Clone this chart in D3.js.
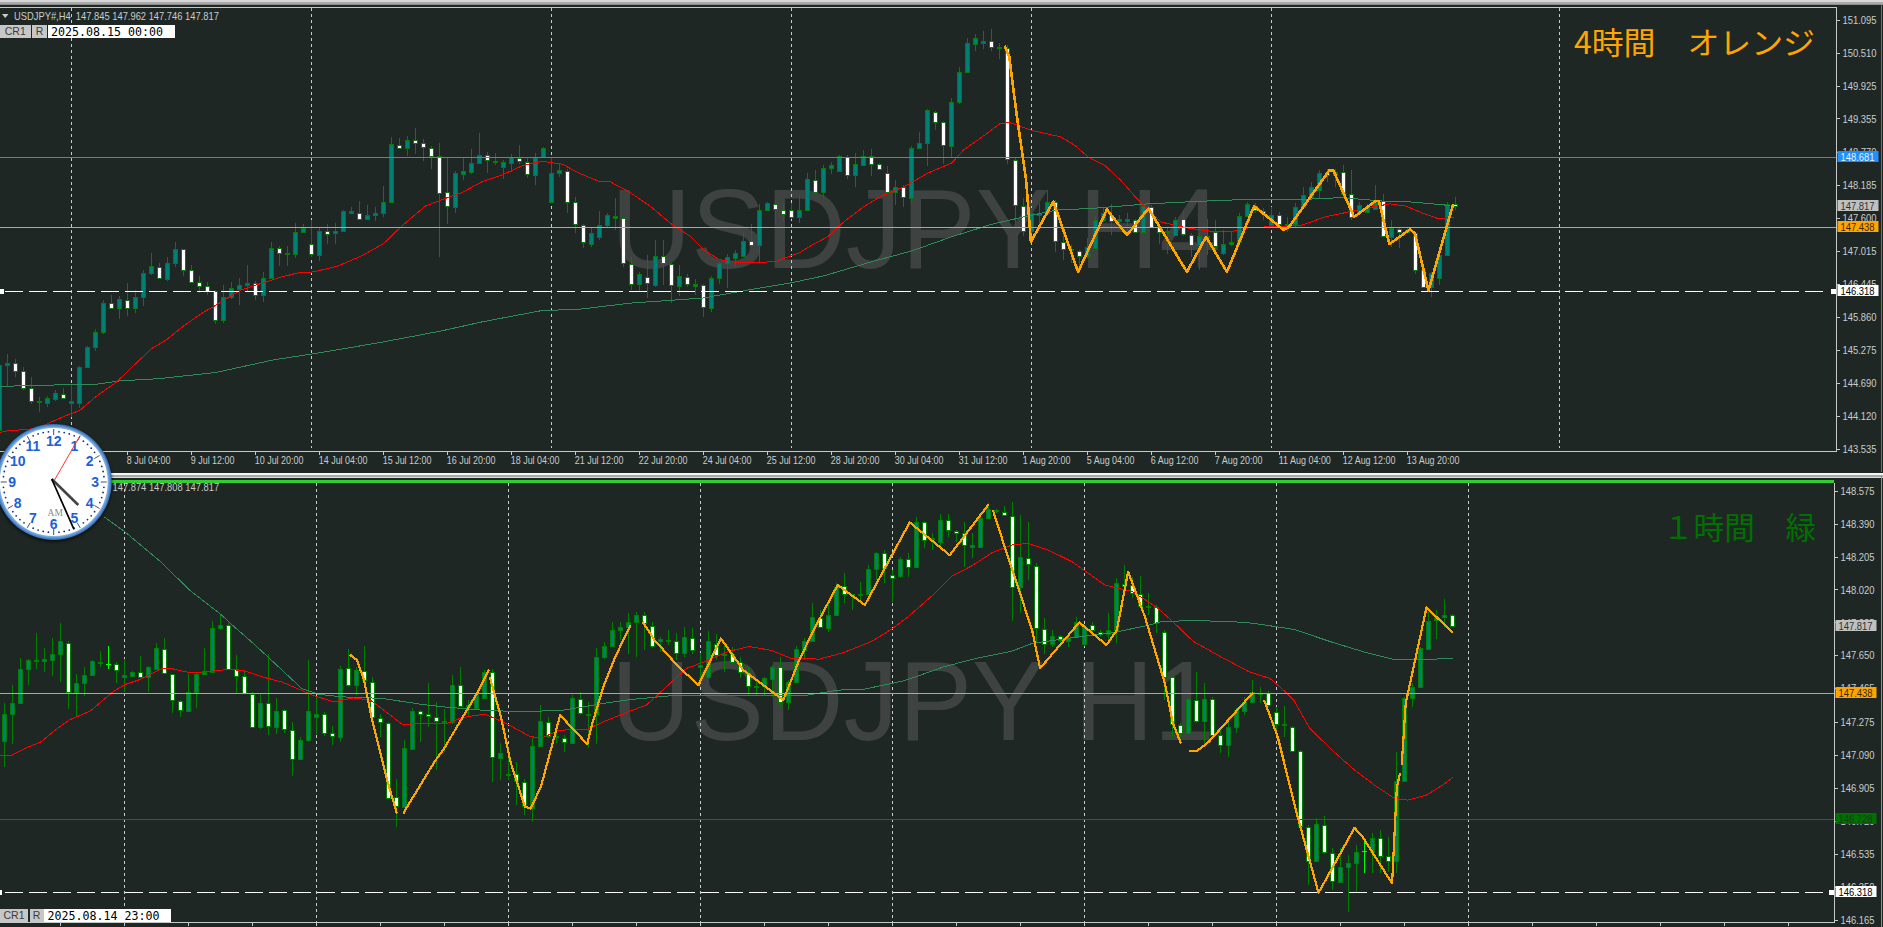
<!DOCTYPE html>
<html><head><meta charset="utf-8">
<script src="https://cdn.jsdelivr.net/npm/d3@7"></script>
<style>
html,body{margin:0;padding:0;background:#1f2724;overflow:hidden}
svg{display:block;font-family:"Liberation Sans",Arial,sans-serif}
</style></head><body>
<svg id="c" width="1883" height="927"></svg>
<script>
// ---- H4 panel: [open, high, low, close] per bar
const h4Bars=[
[143.86,145.07,143.80,145.01],[145.01,145.21,144.63,145.05],[145.05,145.12,144.80,144.91],[144.91,144.98,144.57,144.60],[144.60,144.79,144.32,144.38],[144.38,144.45,144.19,144.35],[144.34,144.46,144.27,144.42],[144.41,144.57,144.37,144.51],[144.50,144.60,144.41,144.42],[144.34,144.66,144.10,144.37],
[144.34,145.00,144.26,144.98],[144.98,145.34,144.95,145.33],[145.33,145.64,145.26,145.59],[145.60,146.15,145.55,146.11],[146.11,146.24,145.99,146.02],[146.02,146.22,145.82,146.17],[146.15,146.45,145.87,146.01],[146.01,146.33,145.92,146.20],[146.20,146.69,146.05,146.64],[146.63,146.98,146.59,146.75],
[146.74,146.80,146.52,146.54],[146.52,146.92,146.49,146.80],[146.80,147.18,146.74,147.05],[147.05,147.06,146.58,146.68],[146.68,146.77,146.45,146.48],[146.48,146.58,146.27,146.41],[146.41,146.48,146.24,146.31],[146.32,146.33,145.74,145.81],[145.80,146.42,145.75,146.21],[146.21,146.48,146.18,146.36],
[146.35,146.55,146.07,146.42],[146.42,146.78,146.30,146.46],[146.45,146.49,146.15,146.24],[146.24,146.65,146.12,146.55],[146.55,147.18,146.52,147.08],[147.08,147.10,146.75,146.99],[146.97,147.10,146.75,146.99],[146.97,147.52,146.89,147.36],[147.36,147.50,147.33,147.42],[147.15,147.57,146.91,146.96],
[146.95,147.45,146.84,147.37],[147.37,147.49,147.15,147.31],[147.33,147.52,147.14,147.37],[147.37,147.74,147.36,147.72],[147.69,147.80,147.68,147.72],[147.69,147.90,147.56,147.59],[147.59,147.83,147.56,147.66],[147.66,147.80,147.55,147.68],[147.68,148.16,147.61,147.89],[147.89,149.02,147.88,148.90],
[148.89,149.01,148.81,148.83],[148.83,149.04,148.69,148.98],[148.98,149.18,148.73,148.93],[148.93,149.00,148.61,148.85],[148.84,148.87,148.47,148.70],[148.69,148.93,146.91,148.04],[148.05,148.68,147.49,147.81],[147.80,148.43,147.68,148.39],[148.38,148.68,148.27,148.42],[148.41,148.81,148.37,148.57],
[148.57,149.09,148.55,148.71],[148.71,148.76,148.39,148.63],[148.59,148.74,148.54,148.61],[148.50,148.63,148.28,148.58],[148.57,148.73,148.41,148.67],[148.66,148.88,148.56,148.60],[148.59,148.68,148.31,148.37],[148.36,148.74,148.18,148.68],[148.68,148.86,148.65,148.83],[147.89,148.68,147.89,148.39],
[148.40,148.55,148.33,148.44],[148.43,148.46,147.69,147.89],[147.89,147.97,147.33,147.49],[147.48,147.49,147.08,147.18],[147.15,147.42,147.09,147.33],[147.27,147.72,147.21,147.48],[147.47,147.68,147.42,147.65],[147.60,147.95,147.39,147.63],[147.60,147.62,146.74,146.80],[146.79,146.92,146.33,146.44],
[146.44,146.65,146.30,146.62],[146.56,146.95,146.19,146.46],[146.42,147.21,146.38,146.93],[146.93,147.22,146.42,146.80],[146.79,146.80,146.11,146.42],[146.41,146.77,146.22,146.57],[146.56,146.62,146.38,146.43],[146.41,146.52,146.24,146.43],[146.42,146.44,145.85,146.03],[146.02,146.58,145.95,146.55],
[146.55,146.83,146.44,146.80],[146.80,146.96,146.36,146.91],[146.90,147.03,146.74,146.98],[146.93,147.36,146.92,147.20],[147.20,147.49,147.11,147.13],[147.13,147.85,146.83,147.75],[147.75,147.89,147.73,147.86],[147.85,147.92,147.52,147.76],[147.75,147.83,147.53,147.67],[147.75,147.86,147.59,147.61],
[147.61,148.00,147.52,147.75],[147.74,148.39,147.73,148.28],[148.27,148.44,148.03,148.05],[148.05,148.53,147.93,148.49],[148.49,148.59,148.37,148.53],[148.43,148.71,148.41,148.69],[148.68,148.71,148.29,148.35],[148.35,148.75,148.15,148.56],[148.54,148.80,148.51,148.70],[148.69,148.81,148.34,148.56],
[148.56,148.57,148.44,148.46],[148.40,148.52,148.04,148.05],[148.05,148.27,147.83,148.15],[148.15,148.18,147.80,147.97],[147.96,148.87,147.86,148.84],[148.84,149.12,148.81,148.93],[148.93,149.53,148.52,149.50],[149.47,149.48,149.16,149.30],[149.30,149.31,148.56,148.88],[148.87,149.72,148.68,149.64],
[149.64,150.27,149.61,150.18],[150.18,150.78,150.17,150.69],[150.67,150.84,150.55,150.77],[150.69,150.89,150.58,150.72],[150.72,150.93,150.55,150.61],[150.60,150.68,150.40,150.62],[150.60,150.65,148.56,148.64],[148.63,148.67,147.47,147.83],[147.81,147.95,147.28,147.37],[147.37,147.77,147.26,147.68],
[147.65,147.86,147.50,147.68],[147.68,148.09,147.68,147.89],[147.89,147.92,147.00,147.20],[147.17,147.36,146.86,147.06],[147.03,147.12,146.80,147.06],[147.02,147.03,146.64,146.93],[146.93,147.24,146.89,147.09],[147.08,147.62,147.06,147.57],[147.56,147.80,147.53,147.68],[147.65,147.85,147.30,147.55],
[147.54,147.65,147.39,147.58],[147.55,147.68,147.36,147.59],[147.56,147.59,147.33,147.36],[147.35,147.86,147.33,147.81],[147.79,147.83,147.42,147.45],[147.45,147.50,147.15,147.36],[147.35,147.45,146.96,147.37],[147.30,147.61,147.28,147.57],[147.58,147.73,147.29,147.32],[147.30,147.33,146.92,147.13],
[147.13,147.33,146.68,147.29],[147.28,147.59,146.95,147.29],[147.36,147.57,147.06,147.11],[146.99,147.39,146.95,147.15],[147.15,147.36,147.11,147.17],[147.17,147.69,147.15,147.64],[147.64,147.89,147.62,147.84],[147.82,147.86,147.68,147.74],[147.73,147.77,147.56,147.69],[147.47,147.80,147.45,147.66],
[147.66,147.71,147.47,147.49],[147.45,147.62,147.35,147.50],[147.50,147.86,147.45,147.80],[147.80,148.15,147.79,148.00],[147.97,148.24,147.95,148.14],[148.10,148.44,147.95,148.40],[148.40,148.47,148.24,148.35],[148.36,148.47,148.15,148.41],[148.41,148.53,147.97,148.02],[148.02,148.44,147.57,147.62],
[147.71,147.89,147.68,147.83],[147.71,147.85,147.69,147.77],[147.76,148.18,147.74,147.89],[147.90,148.03,147.26,147.28],[147.27,147.56,147.09,147.42],[147.41,147.42,147.08,147.35],[147.36,147.45,147.33,147.39],[147.34,147.36,146.61,146.69],[146.68,146.71,146.36,146.38],[146.38,146.65,146.21,146.63],
[146.55,146.98,146.42,146.95],[146.95,147.89,146.93,147.85],[147.845,147.962,147.746,147.817]];
// red moving average, H4: [bar, price]
const h4Fast=[[-1,143.79],[1,143.85],[3,143.87],[5,143.90],[6.5,144.01],[8.5,144.13],[10,144.21],[12,144.45],[14.6,144.71],[16.6,144.98],[19,145.30],[20.8,145.45],[23.1,145.71],[25.6,145.95],[27.1,146.07],[30.1,146.33],[32.1,146.42],[35.2,146.56],[37.2,146.63],[39.2,146.65],[42.2,146.75],[45.2,146.93],[48,147.15],[50.2,147.45],[53.2,147.81],[55.8,147.95],[57.8,148.05],[60.3,148.24],[62.8,148.36],[65.3,148.52],[67.8,148.60],[70.3,148.55],[72.3,148.40],[74.8,148.25],[76.3,148.24],[78.8,148.05],[81.4,147.80],[83.9,147.50],[86.4,147.27],[87.9,147.05],[89.9,146.87],[91.9,146.82],[94.9,146.82],[96.9,146.83],[100,146.99],[101.5,147.12],[103.5,147.27],[105.5,147.53],[108,147.80],[110,147.97],[113,148.15],[116,148.39],[119,148.57],[120.5,148.80],[123.1,149.06],[125.1,149.27],[126.3,149.28],[129.1,149.14],[132.6,149.03],[134.4,148.88],[136.1,148.67],[138.1,148.53],[140.1,148.27],[142.1,147.95],[143.4,147.77],[145.2,147.53],[148.2,147.43],[151.2,147.37],[154.2,147.37],[156.2,147.43],[161,147.46],[162.7,147.47],[165.7,147.62],[168.7,147.71],[171.8,147.80],[173.8,147.85],[175.8,147.81],[177.8,147.69],[179.8,147.59],[181.8,147.61]];
// green moving average, H4
const h4Slow=[[-1,144.63],[7.5,144.66],[12,144.67],[15,144.73],[20,144.77],[27.1,144.88],[34.2,145.10],[40.2,145.23],[47.7,145.41],[55.2,145.61],[60.3,145.77],[67.8,145.97],[72.3,145.99],[78.8,146.10],[87.9,146.19],[93.9,146.34],[99,146.46],[103,146.58],[109,146.83],[114,147.02],[119,147.27],[124,147.49],[128,147.62],[132.1,147.74],[136.6,147.77],[143.6,147.85],[149.2,147.89],[156.2,147.93],[163.2,147.93],[167.7,147.96],[172.8,147.90],[176.8,147.88],[181.3,147.82]];
// orange zigzag, H4
const h4Zig=[[125.6,150.64],[126.2,150.44],[127.1,149.44],[128.3,148.27],[128.9,147.18],[131.7,147.89],[134.8,146.65],[138.4,147.75],[140.9,147.30],[143.6,147.77],[148.4,146.65],[150.8,147.27],[153.4,146.65],[156.8,147.81],[160.5,147.39],[161.2,147.45],[166.2,148.44],[166.7,148.44],[169.3,147.62],[172,147.90],[172.4,147.90],[173.7,147.14],[176.3,147.40],[176.9,147.33],[178.6,146.32],[181.7,147.85]];

// ---- H1 panel
const h1Bars=[
[147.170,147.380,147.024,147.323],[147.323,147.486,147.151,147.385],[147.385,147.636,147.380,147.576],[147.574,147.632,147.483,147.623],[147.616,147.773,147.576,147.623],[147.616,147.694,147.557,147.629],[147.623,147.750,147.533,147.660],[147.660,147.829,147.501,147.728],[147.722,147.730,147.351,147.445],[147.445,147.548,147.305,147.492],
[147.492,147.586,147.421,147.542],[147.542,147.623,147.539,147.616],[147.614,147.675,147.586,147.606],[147.604,147.702,147.571,147.604],[147.602,147.614,147.496,147.565],[147.529,147.632,147.445,147.537],[147.535,147.563,147.529,147.557],[147.556,147.645,147.520,147.528],[147.529,147.589,147.445,147.582],[147.576,147.722,147.567,147.689],
[147.687,147.745,147.544,147.550],[147.546,147.548,147.327,147.398],[147.395,147.398,147.301,147.342],[147.338,147.548,147.331,147.445],[147.445,147.554,147.355,147.548],[147.548,147.694,147.542,147.559],[147.557,147.842,147.554,147.801],[147.805,147.876,147.795,147.818],[147.822,147.833,147.571,147.574],[147.573,147.651,147.436,147.533],
[147.533,147.567,147.432,147.436],[147.434,147.445,147.241,147.247],[147.245,147.436,147.239,147.385],[147.385,147.655,147.204,147.252],[147.249,147.408,147.211,147.340],[147.342,147.346,147.215,147.235],[147.232,147.273,146.973,147.067],[147.065,147.192,147.061,147.177],[147.177,147.623,147.164,147.340],[147.305,147.417,147.211,147.322],
[147.322,147.333,147.196,147.215],[147.213,147.252,147.145,147.196],[147.192,147.589,147.164,147.576],[147.578,147.683,147.473,147.486],[147.486,147.586,147.426,147.567],[147.563,147.704,147.492,147.509],[147.501,147.526,147.286,147.305],[147.297,147.323,147.192,147.275],[147.269,147.277,146.846,146.851],[146.853,146.958,146.687,146.803],
[146.799,147.177,146.793,147.127],[147.125,147.355,147.118,147.340],[147.337,147.342,147.164,147.323],[147.320,147.492,147.248,147.307],[147.305,147.389,147.005,147.284],[147.280,147.346,147.108,147.275],[147.277,147.539,147.267,147.486],[147.484,147.582,147.361,147.365],[147.361,147.398,147.305,147.370],[147.355,147.445,147.346,147.426],
[147.413,147.567,147.408,147.557],[147.557,147.571,146.936,147.080],[147.074,147.155,146.949,147.099],[146.977,147.080,146.949,146.984],[146.981,147.052,146.808,146.945],[146.939,146.958,146.752,146.803],[146.790,147.183,146.715,147.142],[147.142,147.370,147.136,147.282],[147.277,147.305,147.183,147.196],[147.198,147.230,147.155,147.189],
[147.187,147.202,147.108,147.162],[147.159,147.426,147.151,147.408],[147.406,147.445,147.314,147.325],[147.314,147.389,147.132,147.323],[147.318,147.694,147.151,147.642],[147.642,147.726,147.632,147.704],[147.704,147.835,147.698,147.795],[147.795,147.838,147.735,147.810],[147.810,147.889,147.660,147.838],[147.839,147.895,147.642,147.875],
[147.876,147.895,147.680,147.830],[147.815,147.839,147.689,147.702],[147.732,147.755,147.670,147.740],[147.732,147.792,147.708,147.738],[147.732,147.773,147.624,147.661],[147.661,147.807,147.642,147.751],[147.749,147.803,147.657,147.680],[147.586,147.661,147.521,147.595],[147.530,147.788,147.526,147.728],[147.713,147.770,147.624,147.652],
[147.650,147.717,147.558,147.657],[147.655,147.698,147.605,147.610],[147.610,147.642,147.521,147.556],[147.552,147.586,147.427,147.478],[147.479,147.511,147.427,147.474],[147.478,147.530,147.427,147.521],[147.515,147.595,147.418,147.586],[147.586,147.642,147.352,147.389],[147.386,147.511,147.343,147.502],[147.502,147.702,147.492,147.683],
[147.680,147.745,147.624,147.732],[147.732,147.942,147.727,147.863],[147.861,147.904,147.801,147.809],[147.801,147.951,147.783,147.878],[147.878,148.054,147.873,148.036],[148.039,148.110,147.942,147.994],[147.987,147.994,147.904,147.994],[147.987,148.064,147.951,147.994],[147.994,148.157,147.989,148.133],[148.133,148.232,148.073,148.223],
[148.223,148.242,148.054,148.139],[148.101,148.129,147.951,148.086],[148.097,148.204,148.082,148.189],[148.191,148.223,148.092,148.146],[148.148,148.429,148.144,148.401],[148.401,148.406,148.251,148.298],[148.301,148.335,148.242,148.311],[148.288,148.442,148.242,148.408],[148.410,148.444,148.316,148.352],[148.350,148.354,148.288,148.335],
[148.339,148.401,148.148,148.270],[148.260,148.335,148.195,148.268],[148.260,148.429,148.257,148.419],[148.419,148.504,148.414,148.470],[148.468,148.472,148.448,148.462],[148.457,148.489,148.434,148.438],[148.433,148.513,147.845,148.036],[148.032,148.438,147.886,148.200],[148.198,148.401,148.073,148.163],[148.154,148.170,147.717,147.805],
[147.800,147.858,147.657,147.713],[147.712,147.792,147.698,147.760],[147.758,147.764,147.698,147.736],[147.732,147.773,147.698,147.745],[147.755,147.867,147.745,147.839],[147.712,147.820,147.704,147.811],[147.820,147.839,147.773,147.792],[147.781,147.792,147.755,147.770],[147.770,147.889,147.717,147.792],[147.792,148.082,147.721,148.054],
[148.051,148.157,147.998,148.039],[148.045,148.092,147.970,148.002],[147.994,148.095,147.919,147.927],[147.921,147.998,147.876,147.927],[147.921,147.933,147.773,147.833],[147.783,147.792,147.399,147.530],[147.526,147.534,147.193,147.264],[147.260,147.268,147.193,147.212],[147.215,147.417,147.212,147.403],[147.401,147.558,147.268,147.281],
[147.283,147.492,147.146,147.403],[147.406,147.417,147.193,147.202],[147.202,147.240,147.099,147.146],[147.144,147.305,147.080,147.245],[147.245,147.352,147.212,147.343],[147.339,147.417,147.315,147.386],[147.386,147.511,147.380,147.446],[147.433,147.470,147.380,147.440],[147.438,147.451,147.361,147.369],[147.333,147.358,147.230,147.264],
[147.257,147.365,147.193,147.264],[147.249,147.255,147.109,147.114],[147.114,147.118,146.683,146.691],[146.687,146.697,146.359,146.496],[146.494,146.734,146.491,146.700],[146.698,146.747,146.534,146.543],[146.541,146.565,146.332,146.384],[146.378,146.565,146.373,146.462],[146.462,146.528,146.210,146.481],[146.481,146.584,146.313,146.547],
[146.551,146.612,146.425,146.551],[146.547,146.650,146.425,146.625],[146.625,146.669,146.425,146.522],[146.522,146.631,146.434,146.496],[146.494,147.109,146.425,146.946],[146.946,147.417,146.940,147.412],[147.412,147.492,147.358,147.474],[147.474,147.698,147.470,147.689],[147.683,147.895,147.680,147.845],[147.848,147.904,147.742,147.858],
[147.865,147.964,147.811,147.875],[147.874,147.882,147.808,147.817]];
const h1Fast=[[-1,147.089],[0.7,147.086],[2.5,147.127],[4.5,147.164],[6,147.220],[8,147.286],[10.7,147.338],[13.5,147.445],[15,147.486],[17,147.516],[19.5,147.574],[21,147.574],[23,147.554],[25,147.557],[28,147.571],[30,147.563],[32.6,147.524],[34.6,147.501],[38.6,147.424],[41.1,147.389],[43.6,147.411],[45.7,147.398],[49.7,147.262],[52.2,147.267],[55.2,147.267],[57.2,147.301],[60,147.320],[62.7,147.267],[65.7,147.192],[67.3,147.189],[69.3,147.230],[72.8,147.233],[74.8,147.277],[78.2,147.338],[80.2,147.371],[82.7,147.474],[85.2,147.577],[87.7,147.618],[90.3,147.670],[93,147.700],[95.8,147.678],[98.3,147.633],[101.8,147.629],[104.8,147.665],[108.3,147.727],[110.8,147.796],[112.9,147.867],[115.9,147.985],[118.4,148.095],[120.9,148.154],[123.4,148.227],[125.9,148.270],[127.9,148.279],[130.4,148.242],[133.4,148.176],[137.5,148.045],[141,148.007],[144,147.919],[146,147.839],[148.5,147.730],[152,147.642],[155.5,147.558],[158.1,147.521],[159.6,147.464],[161.1,147.399],[163.1,147.240],[166.1,147.109],[168.7,147.006],[171.2,146.921],[173.7,146.846],[175.4,146.837],[177.7,146.865],[179.7,146.921],[181,146.964]];
const h1Slow=[[12.4,148.428],[15,148.344],[19.5,148.175],[23.1,148.016],[27.1,147.876],[28.1,147.833],[30.6,147.735],[33.1,147.632],[37.1,147.464],[39.1,147.432],[42.1,147.417],[47.2,147.408],[52.2,147.374],[54.7,147.361],[59.7,147.342],[64.7,147.333],[69.8,147.342],[74.8,147.380],[78.2,147.402],[83.2,147.423],[93.3,147.425],[100.3,147.427],[104.3,147.455],[107.3,147.459],[112.4,147.507],[117.4,147.586],[121.4,147.633],[125.9,147.674],[128.4,147.717],[133.4,147.749],[138.5,147.777],[143,147.820],[144.5,147.839],[148.5,147.846],[153.5,147.839],[156.1,147.830],[161.1,147.796],[166.1,147.721],[170.2,147.665],[173.9,147.624],[177.7,147.627],[181,147.633]];
const h1Zig=[[43.1,147.655],[44,147.623],[44.9,147.511],[45.9,147.286],[47.9,146.930],[49,146.762],null,
[49.8,146.762],[50.4,146.808],[53.7,147.052],[54.9,147.127],[59,147.436],[60.5,147.571],null,
[60.6,147.529],[62,147.305],[63.2,147.052],[65,146.799],[65.7,146.790],[67,146.911],[69.4,147.314],[72.8,147.151],[73.3,147.248],[74.8,147.473],[76.3,147.642],[78.2,147.820],null,
[79.7,147.839],[81.2,147.736],[84.2,147.586],[86.7,147.483],[89.5,147.745],[92.3,147.567],[97.3,147.399],[99.3,147.624],[101.3,147.811],[104.1,148.045],[107.5,147.933],[113.1,148.397],[118.1,148.213],[123,148.500],null,
[123.5,148.466],[124.9,148.270],[128.4,147.792],[129.4,147.577],[134.3,147.835],[137.7,147.708],[139,147.792],[140.4,148.120],[142.5,147.867],[145,147.492],[146,147.268],[147,147.155],null,
[148,147.112],[149,147.112],[150.5,147.165],[156,147.440],null,
[157.4,147.399],[159.1,147.193],[161.6,146.743],[164.2,146.316],[168.7,146.681],[169.7,146.631],[173.4,146.369],[173.5,146.463],[174,146.912],[174.4,146.987],null,
[174.6,147.034],[175.1,147.380],[177.7,147.919],[181,147.777]];

// ---- axes, levels, texts
const h4PriceTicks=[151.095,150.510,149.925,149.355,148.770,148.185,147.600,147.015,146.445,145.860,145.275,144.690,144.120,143.535];
const h1PriceTicks=[148.575,148.390,148.205,148.020,147.835,147.650,147.465,147.275,147.090,146.905,146.720,146.535,146.350,146.165];
const h4TimeBars=[16,24,32,40,48,56,64,72,80,88,96,104,112,120,128,136,144,152,160,168,176];
const h4TimeLabels=["8 Jul 04:00","9 Jul 12:00","10 Jul 20:00","14 Jul 04:00","15 Jul 12:00","16 Jul 20:00","18 Jul 04:00","21 Jul 12:00","22 Jul 20:00","24 Jul 04:00","25 Jul 12:00","28 Jul 20:00","30 Jul 04:00","31 Jul 12:00","1 Aug 20:00","5 Aug 04:00","6 Aug 12:00","7 Aug 20:00","11 Aug 04:00","12 Aug 12:00","13 Aug 20:00"];
const h4GridBars=[9,39,69,99,129,159,195];
const h1GridBars=[15,39,63,87,111,135,159,183];
const h1TickBars=[7,15,23,31,39,47,55,63,71,79,87,95,103,111,119,127,135,143,151,159,167,175,183,191,199,207,215,223];
const h4Levels=[{p:148.681,c:"#1e90ff",tag:"#1e90ff",txt:"#e6f2ff"},{p:147.438,c:"#e8a31c",tag:"#ffa500",txt:"#3a2a00"}];
const h1Levels=[{p:147.438,c:"#e8a31c",tag:"#ffa500",txt:"#3a2a00"},{p:146.728,c:"#0f780f",tag:"#007000",txt:"#1c3a1c"}];
const lastClose=147.817, dashLevel=146.318;
const clockNumbers=[1,2,3,4,5,6,7,8,9,10,11,12];
const clockMinutes=d3.range(60);

const svg=d3.select("#c");
const BG="#1f2724";
svg.append("rect").attr("width",1883).attr("height",927).attr("fill",BG);
const defs=svg.append("defs");
defs.append("clipPath").attr("id","ct").append("rect").attr("x",0).attr("y",8).attr("width",1836).attr("height",443);
defs.append("clipPath").attr("id","cb").append("rect").attr("x",0).attr("y",483).attr("width",1834).attr("height",439);

function squeeze(sel,f){sel.each(function(){const l=this.getComputedTextLength();d3.select(this).attr("textLength",l*f).attr("lengthAdjust","spacingAndGlyphs");});}

function panel(o){
  const x=d3.scaleLinear().domain([0,1]).range([o.x0,o.x0+8]);
  const y=d3.scaleLinear().domain(o.yDom).range(o.yRange);
  const g=svg.append("g");
  const plot=g.append("g").attr("clip-path",`url(#${o.clip})`);
  // watermark
  plot.append("text").attr("x",611).attr("y",o.wmY).attr("font-size",113).attr("fill","#3e4241")
    .attr("textLength",o.wmW).attr("lengthAdjust","spacingAndGlyphs").text(o.wm);
  // vertical grid
  plot.selectAll(".vg").data(o.grid).join("line").attr("x1",d=>Math.round(x(d))+.5).attr("x2",d=>Math.round(x(d))+.5)
    .attr("y1",o.top).attr("y2",o.gridBottom).attr("stroke","#c9cccb").attr("stroke-dasharray","3 3");
  // candles
  const c=plot.append("g").attr("shape-rendering","crispEdges");
  const cx=i=>Math.round(x(i));
  const doji=d=>d[0]===d[3];
  c.selectAll(".w").data(o.bars).join("line")
    .attr("x1",(d,i)=>cx(i)+.5).attr("x2",(d,i)=>cx(i)+.5)
    .attr("y1",d=>Math.round(y(d[1]))).attr("y2",d=>Math.round(y(d[2])))
    .attr("stroke",d=>doji(d)?"#00ff00":"#008000");
  c.selectAll(".b").data(o.bars.filter(d=>!doji(d)).map(d=>({d,i:o.bars.indexOf(d)}))).join("rect")
    .attr("x",e=>cx(e.i)-1.5).attr("width",4)
    .attr("y",e=>Math.round(y(Math.max(e.d[0],e.d[3])))+.5)
    .attr("height",e=>Math.max(1,Math.round(y(Math.min(e.d[0],e.d[3])))-Math.round(y(Math.max(e.d[0],e.d[3])))))
    .attr("fill",e=>e.d[3]>=e.d[0]?"#008073":"#ffffff").attr("stroke","#008000");
  c.selectAll(".dj").data(o.bars.map((d,i)=>({d,i})).filter(e=>doji(e.d))).join("line")
    .attr("x1",e=>cx(e.i)-2).attr("x2",e=>cx(e.i)+3)
    .attr("y1",e=>Math.round(y(e.d[0]))+.5).attr("y2",e=>Math.round(y(e.d[0]))+.5).attr("stroke","#00ff00");
  // moving averages
  const line=d3.line().defined(d=>d).x(d=>x(d[0])+.5).y(d=>y(d[1]));
  plot.append("path").attr("d",line(o.slow)).attr("fill","none").attr("stroke","#2e8b57").attr("stroke-width",1).attr("shape-rendering","crispEdges");
  plot.append("path").attr("d",line(o.fast)).attr("fill","none").attr("stroke","#ff0000").attr("stroke-width",1).attr("shape-rendering","crispEdges");
  // levels
  const lv=plot.append("g").attr("shape-rendering","crispEdges");
  lv.selectAll("line.l").data(o.levels).join("line").attr("x1",0).attr("x2",1840)
    .attr("y1",d=>Math.round(y(d.p))+.5).attr("y2",d=>Math.round(y(d.p))+.5).attr("stroke",d=>d.c);
  lv.append("line").attr("x1",5).attr("x2",o.axisX-7).attr("y1",Math.round(y(dashLevel))+.5).attr("y2",Math.round(y(dashLevel))+.5)
    .attr("stroke","#fff").attr("stroke-dasharray","18 6");
  lv.append("rect").attr("x",0).attr("y",Math.round(y(dashLevel))-2).attr("width",o.leftSq).attr("height",5).attr("fill","#fff");
  lv.append("rect").attr("x",o.axisX-5).attr("y",Math.round(y(dashLevel))-2).attr("width",5).attr("height",5).attr("fill","#fff");
  // zigzag
  plot.append("path").attr("d",line(o.zig)).attr("fill","none").attr("stroke","#ffa500").attr("stroke-width",o.zigW).attr("stroke-linejoin","round").attr("shape-rendering","crispEdges");

  // frame
  const fr=g.append("g").attr("shape-rendering","crispEdges").attr("stroke","#c6c9c8");
  if(o.frameTop) fr.append("line").attr("x1",0).attr("x2",o.axisX+.5).attr("y1",o.frameTop+.5).attr("y2",o.frameTop+.5);
  fr.append("line").attr("x1",o.axisX+.5).attr("x2",o.axisX+.5).attr("y1",o.frameTop||o.top).attr("y2",o.bottom+1);
  fr.append("line").attr("x1",0).attr("x2",o.axisX+1).attr("y1",o.bottom+.5).attr("y2",o.bottom+.5);
  // right price axis
  const ay=g.append("g").attr("transform",`translate(${o.axisX+.5},0)`)
    .call(d3.axisRight(y).tickValues(o.priceTicks).tickSize(3).tickPadding(3).tickFormat(d3.format(".3f")));
  ay.select(".domain").remove();
  ay.selectAll(".tick line").attr("stroke","#c6c9c8").attr("shape-rendering","crispEdges");
  ay.selectAll(".tick text").attr("fill","#c8cccb").attr("font-size",10.6).attr("font-family","Liberation Sans").attr("dy","0.34em").call(squeeze,.89);
  // time axis
  const ax=g.append("g").attr("transform",`translate(0,${o.bottom+.5})`)
    .call(d3.axisBottom(x).tickValues(o.timeBars).tickSize(3).tickPadding(3)
      .tickFormat(d=>o.timeLabels?o.timeLabels[o.timeBars.indexOf(d)]:""));
  ax.select(".domain").remove();
  ax.selectAll(".tick line").attr("stroke","#c6c9c8").attr("shape-rendering","crispEdges");
  ax.selectAll(".tick text").attr("fill","#c8cccb").attr("font-size",10.8).attr("font-family","Liberation Sans").attr("text-anchor","start").attr("dx",-1).attr("y",5).call(squeeze,.83);
  ax.selectAll(".tick").filter(d=>!o.timeLabels).selectAll("text").remove();
  // tags
  const tags=[{p:lastClose,tag:"#c0c0c0",txt:"#303030"}].concat(o.levels).concat([{p:dashLevel,tag:"#ffffff",txt:"#000000"}]);
  const tg=g.selectAll(".tag").data(tags).join("g").attr("transform",d=>`translate(${o.axisX+1.5},${Math.round(y(d.p))})`);
  tg.append("rect").attr("x",0).attr("y",-6).attr("width",41).attr("height",11).attr("fill",d=>d.tag);
  tg.append("text").attr("x",3).attr("y",3.5).attr("fill",d=>d.txt).attr("font-size",10.6).text(d=>d3.format(".3f")(d.p)).call(squeeze,.89);
  // header
  g.append("text").attr("x",o.headX).attr("y",o.headY).attr("fill","#c8cccb").attr("font-size",10.4).style("white-space","pre").text(o.head).call(squeeze,.9);
  // buttons
  const btn=g.append("g").attr("shape-rendering","crispEdges");
  const bt=o.btn;
  btn.append("rect").attr("x",0).attr("y",bt.y).attr("width",bt.w1).attr("height",13).attr("fill","#c7c7c7");
  btn.append("rect").attr("x",bt.w1+1.5).attr("y",bt.y).attr("width",bt.w2).attr("height",13).attr("fill","#c7c7c7");
  btn.append("rect").attr("x",bt.dx).attr("y",bt.y).attr("width",bt.dw).attr("height",13).attr("fill","#ffffff");
  g.append("text").attr("x",bt.w1/2).attr("y",bt.y+10).attr("text-anchor","middle").attr("fill","#3c3c3c").attr("font-size",10.5).text("CR1");
  g.append("text").attr("x",bt.w1+1.5+bt.w2/2).attr("y",bt.y+10).attr("text-anchor","middle").attr("fill","#3c3c3c").attr("font-size",10.5).text("R");
  g.append("text").attr("x",bt.dx+3.5).attr("y",bt.y+10.5).attr("fill","#000").attr("font-family","DejaVu Sans Mono").attr("font-size",11.65).text(o.date);
  // caption
  g.append("text").attr("x",o.capX).attr("y",o.capY).attr("fill",o.capC).attr("font-family","Noto Sans CJK JP").attr("font-size",o.capS)
    .attr("textLength",o.capW).attr("lengthAdjust","spacingAndGlyphs").text(o.cap);
}

panel({x0:-0.8,yDom:[151.095,143.535],yRange:[19.7,448.7],clip:"ct",top:8,gridBottom:448,bottom:451,axisX:1836,frameTop:7,
  wm:"USDJPY H4",wmY:268,wmW:610,grid:h4GridBars,bars:h4Bars,fast:h4Fast,slow:h4Slow,zig:h4Zig,zigW:2.6,levels:h4Levels,leftSq:4,
  priceTicks:h4PriceTicks,timeBars:h4TimeBars,timeLabels:h4TimeLabels,head:"USDJPY#,H4  147.845 147.962 147.746 147.817",headX:14,headY:19.5,
  btn:{y:25,w1:30.5,w2:15,dx:47.5,dw:127.5},date:"2025.08.15 00:00",cap:"4時間　オレンジ",capX:1574,capY:54,capW:241,capC:"#ffa500",capS:31});
panel({x0:4.4,yDom:[148.575,146.165],yRange:[490.7,919.7],clip:"cb",top:483,gridBottom:922,bottom:922,axisX:1834,frameTop:0,
  wm:"USDJPY H1",wmY:740,wmW:604,grid:h1GridBars,bars:h1Bars,fast:h1Fast,slow:h1Slow,zig:h1Zig,zigW:2.2,levels:h1Levels,leftSq:2,
  priceTicks:h1PriceTicks,timeBars:h1TickBars,timeLabels:null,head:"147.874 147.808 147.817",headX:112.5,headY:491,
  btn:{y:909,w1:28,w2:14,dx:44,dw:127},date:"2025.08.14 23:00",cap:"１時間　緑",capX:1663,capY:539,capW:153,capC:"#007000",capS:31});

// triangle in the H4 header
svg.append("path").attr("d",d3.line()([[2,14],[8.5,14],[5.2,18]])).attr("fill","#c8cccb");

// window chrome
const chrome=svg.append("g").attr("shape-rendering","crispEdges");
[[0,0,1883,2,"#d8d8d8"],[0,2,1883,2,"#a9a9a9"],[0,4,1883,1,"#8c8c8c"],
 [0,472.5,1883,2,"#f4f4f4"],[0,474.5,1883,2,"#a8a8a8"],[0,476.5,1883,1,"#dcdcdc"],
 [0,479.5,1834,3.5,"#32cd32"]].forEach(r=>chrome.append("rect").attr("x",r[0]).attr("y",r[1]).attr("width",r[2]).attr("height",r[3]).attr("fill",r[4]));
chrome.append("line").attr("x1",1881.5).attr("x2",1881.5).attr("y1",476).attr("y2",927).attr("stroke","#8e8e8e");
chrome.append("line").attr("x1",1881.5).attr("x2",1881.5).attr("y1",5).attr("y2",472).attr("stroke","#6e6e6e");

// clock
const ck=svg.append("g").attr("transform","translate(53.7,482)");
const rg=defs.append("radialGradient").attr("id","ring");
rg.append("stop").attr("offset","88%").attr("stop-color","#cfe0f2");
rg.append("stop").attr("offset","94%").attr("stop-color","#7fb0e4");
rg.append("stop").attr("offset","100%").attr("stop-color","#2d68b4");
const sh=defs.append("filter").attr("id","sh").attr("x","-20%").attr("y","-20%").attr("width","140%").attr("height","140%");
sh.append("feGaussianBlur").attr("stdDeviation",1.5);
ck.append("circle").attr("r",58.5).attr("cy",1.5).attr("fill","#000").attr("opacity",.55).attr("filter","url(#sh)");
ck.append("circle").attr("r",58).attr("fill","url(#ring)");
ck.append("circle").attr("r",54).attr("fill","#ffffff");
const ang=d3.scaleLinear().domain([0,60]).range([0,2*Math.PI]);
const px=(a,r)=>r*Math.sin(ang(a)), py=(a,r)=>-r*Math.cos(ang(a));
ck.selectAll(".dot").data(clockMinutes.filter(m=>m%5)).join("circle").attr("cx",m=>px(m,50.5)).attr("cy",m=>py(m,50.5)).attr("r",.9).attr("fill","#14307a");
ck.selectAll(".maj").data(clockMinutes.filter(m=>m%5===0)).join("line")
  .attr("x1",m=>px(m,47)).attr("y1",m=>py(m,47)).attr("x2",m=>px(m,53)).attr("y2",m=>py(m,53))
  .attr("stroke","#333c55").attr("stroke-width",.9);
ck.selectAll(".num").data(clockNumbers).join("text").attr("x",n=>px(n*5,41.5)).attr("y",n=>py(n*5,41.5)+5)
  .attr("text-anchor","middle").attr("font-weight","bold").attr("font-size",14).attr("fill","#1c62d6").text(n=>n);
ck.append("text").attr("x",1.5).attr("y",33.5).attr("text-anchor","middle").attr("font-family","Liberation Serif").attr("font-size",9.5).attr("fill","#8a8a8a").text("AM");
ck.append("line").attr("x1",-0.3).attr("y1",0).attr("x2",26.3).attr("y2",-46.3).attr("stroke","#ff1e1e").attr("stroke-width",.9);
ck.append("line").attr("x1",-2).attr("y1",-3).attr("x2",24.6).attr("y2",23).attr("stroke","#444").attr("stroke-width",2.6);
ck.append("line").attr("x1",-2).attr("y1",-3).attr("x2",20.3).attr("y2",47.3).attr("stroke","#000").attr("stroke-width",1.7);
</script></body></html>
